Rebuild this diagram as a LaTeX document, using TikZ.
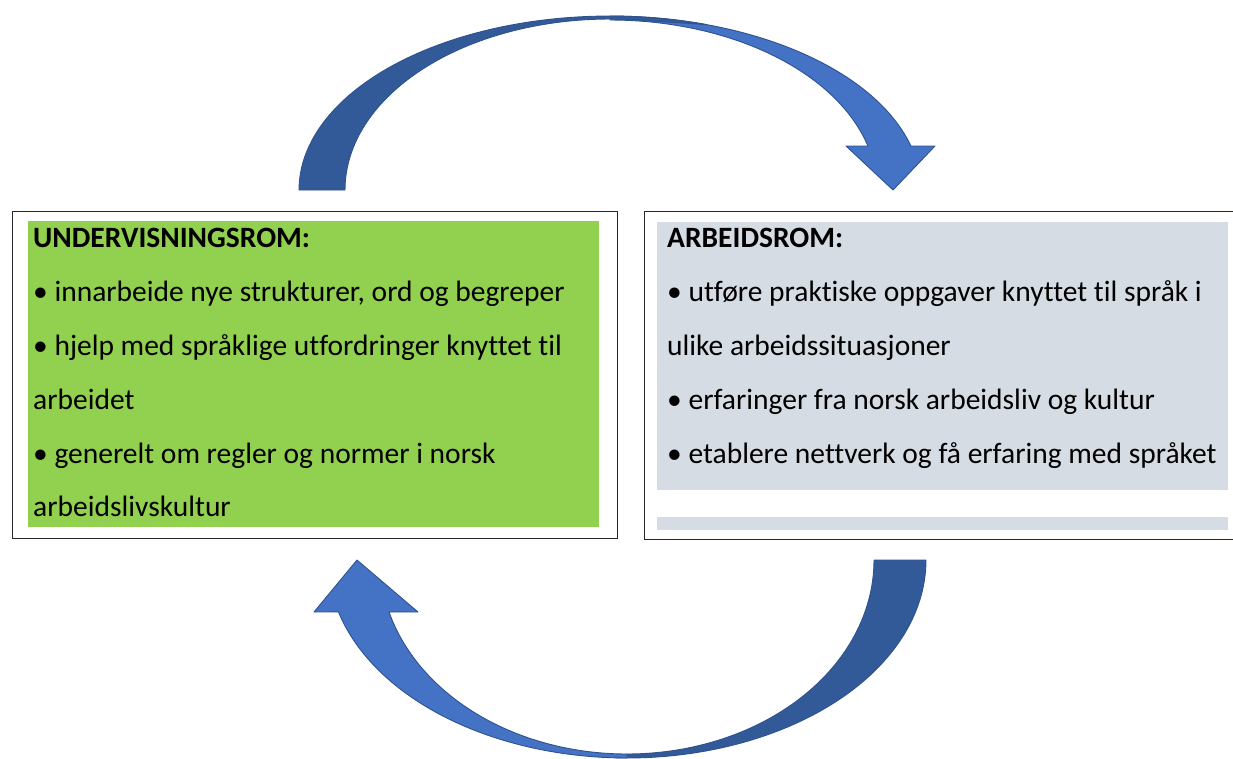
\documentclass[tikz,border=0pt]{standalone}
\usepackage{fontspec}
\setmainfont{Carlito}[Ligatures={NoCommon}]
\definecolor{boxgreen}{HTML}{92D050}
\definecolor{boxgrey}{HTML}{D6DCE4}
\definecolor{arrlight}{HTML}{4472C4}
\definecolor{arrdark}{HTML}{335A98}
\definecolor{arrline}{HTML}{2F528F}
\definecolor{frameline}{HTML}{262626}
\tikzset{
  frame/.style={draw=frameline, line width=1.3pt, anchor=north west, inner sep=0pt},
  panel/.style={anchor=north west, inner sep=0pt, draw=none},
  title/.style={anchor=base west, inner sep=0pt, font=\fontsize{29.5}{34}\selectfont\bfseries},
  body/.style={anchor=base west, inner sep=0pt, font=\fontsize{29.5}{34}\selectfont},
  lightband/.style={fill=arrlight, draw=arrline, line width=0.9pt, line join=round},
  darkband/.style={fill=arrdark, draw=arrline, line width=0.9pt, line join=round}
}
\begin{document}
\begin{tikzpicture}[x=1pt,y=-1pt]
\useasboundingbox (0,0) rectangle (1233,758);
% boxes
\node (leftbox) [frame, minimum width=605pt, minimum height=327pt] at (11.5,210.5) {};
\node (leftfill) [panel, fill=boxgreen, minimum width=571pt, minimum height=306pt] at (28,221) {};
\node (rightbox) [frame, minimum width=590pt, minimum height=328pt] at (644,211) {};
\node (rightfill) [panel, fill=boxgrey, minimum width=571pt, minimum height=268pt] at (657,222) {};
\node (rightstrip) [panel, fill=boxgrey, minimum width=571pt, minimum height=13pt] at (657,517) {};
% left text
\node (l0) [title] at (33,247) {UNDERVISNINGSROM:};
\node (l1) [body] at (33,301.5) {• innarbeide nye strukturer, ord og begreper};
\node (l2) [body] at (33,355.3) {• hjelp med språklige utfordringer knyttet til};
\node (l3) [body] at (33,409) {arbeidet};
\node (l4) [body] at (33,463) {• generelt om regler og normer i norsk};
\node (l5) [body] at (33,516.7) {arbeidslivskultur};
% right text
\node (r0) [title] at (667,247) {ARBEIDSROM:};
\node (r1) [body] at (667,301.5) {• utføre praktiske oppgaver knyttet til språk i};
\node (r2) [body] at (667,355.3) {ulike arbeidssituasjoner};
\node (r3) [body] at (667,409) {• erfaringer fra norsk arbeidsliv og kultur};
\node (r4) [body] at (667,463) {• etablere nettverk og få erfaring med språket};
% top arrow (from left box to right box)
\draw[lightband] plot[domain=90:14.65, samples=50] ({610+311*cos(\x)},{190-174*sin(\x)})
  -- (935,146) -- (893,190) -- (846,146) -- (868,146)
  -- plot[domain=15:90, samples=50] ({610+267*cos(\x)},{190-170*sin(\x)}) -- cycle;
\draw[darkband] plot[domain=180:72, samples=60] ({610+311*cos(\x)},{190-174*sin(\x)})
  -- plot[domain=86:180, samples=60] ({610+265*cos(\x)},{190-171*sin(\x)}) -- cycle;
% bottom arrow (from right box to left box)
\draw[darkband] plot[domain=0:-92, samples=60] ({627+299*cos(\x)},{560-198*sin(\x)})
  -- plot[domain=-90:0, samples=60] ({627+247*cos(\x)},{560-194*sin(\x)}) -- cycle;
\draw[lightband] plot[domain=-90:-164.8, samples=60] ({627+299*cos(\x)},{560-198*sin(\x)})
  -- (314,612) -- (357,560) -- (418,612) -- (389,612)
  -- plot[domain=-164.5:-90, samples=60] ({627+247*cos(\x)},{560-194*sin(\x)}) -- cycle;
\end{tikzpicture}
\end{document}
